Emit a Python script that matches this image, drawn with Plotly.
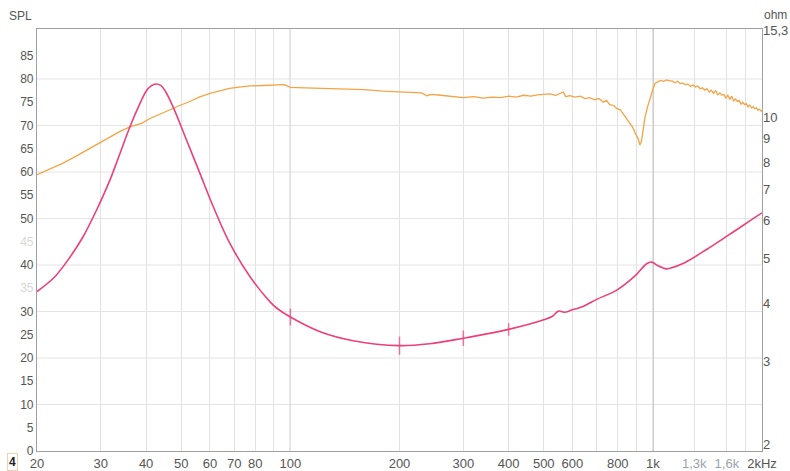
import plotly.graph_objects as go
import math

# ---------------- data ----------------
# SPL (dB) vs frequency (Hz) - orange curve, left axis
SPL_F = [20, 22, 23.6, 25.5, 27.4, 29.5, 31.8, 34, 36.1, 37.7, 39, 41, 43.5, 46.5, 49.5,
         52.6, 56, 60, 64, 68, 73, 77.4, 84, 91.6, 96, 98, 100, 110, 125, 140, 160, 180,
         200, 215, 230, 238, 245, 260, 280, 300, 320, 340, 360, 380, 400, 420, 440, 460,
         480, 500, 520, 540, 552, 566, 575, 590, 610, 630, 650, 670, 690, 710, 730, 745,
         760, 780, 795, 812, 830, 848, 865, 880, 895, 910, 921, 930, 940, 950, 965, 985,
         1000, 1015, 1030, 1050, 1070, 1090, 1110, 1130, 1150, 1170, 1190, 1210, 1230,
         1250, 1270, 1290, 1310, 1330, 1350, 1370, 1390, 1410, 1430, 1450, 1470, 1490,
         1510, 1530, 1550, 1570, 1590, 1610, 1630, 1650, 1670, 1690, 1710, 1730, 1750,
         1770, 1790, 1810, 1830, 1850, 1870, 1890, 1910, 1930, 1950, 1970, 1990, 2000]
SPL_DB = [59.4, 60.8, 61.9, 63.3, 64.7, 66.2, 67.6, 68.8, 69.7, 70.1, 70.5, 71.5, 72.4, 73.3, 74.3,
          75.1, 76.1, 76.9, 77.5, 78.0, 78.3, 78.5, 78.6, 78.7, 78.8, 78.5, 78.2, 78.1, 78.0, 77.8, 77.7, 77.4,
          77.2, 77.1, 77.0, 76.4, 76.7, 76.5, 76.3, 76.0, 76.2, 75.9, 76.1, 76.0, 76.3, 76.1, 76.5, 76.3,
          76.6, 76.7, 76.8, 76.5, 76.9, 77.2, 76.2, 76.4, 76.1, 76.3, 75.8, 76.0, 75.5, 75.8, 75.0, 75.4,
          74.5, 74.3, 73.6, 73.4, 72.4, 71.4, 70.6, 69.6, 68.3, 67.2, 65.8, 66.6, 69.0, 71.6, 73.8, 76.2,
          77.8, 79.1, 79.3, 79.7, 79.5, 79.8, 79.6, 79.6, 79.2, 79.5, 79.0, 79.1, 78.8,
          78.9, 78.4, 78.7, 78.3, 78.5, 77.9, 78.1, 77.6, 77.9, 77.2, 77.6, 76.9, 77.5,
          76.6, 77.0, 76.5, 76.7, 75.9, 76.5, 75.6, 76.3, 75.3, 75.7, 75.2, 75.4, 74.6,
          75.0, 74.5, 74.7, 74.0, 74.4, 73.8, 74.0, 73.6, 73.8, 73.3, 73.5, 73.1, 73.2]

# Impedance (ohm) vs frequency (Hz) - pink curve, right axis
IMP_F = [20, 22.4, 24.7, 26.8, 29.2, 31.8, 33.9, 36.1, 38.5, 40, 41.3, 42.6, 43.9, 45.2, 47.5,
         51.7, 56.3, 61.3, 68.1, 77.4, 87.9, 91.6, 100, 120.8, 149, 200, 242, 300, 400, 500,
         530, 548, 570, 597, 646, 700, 795, 888, 961, 993, 1030, 1090, 1110, 1220, 1410, 1620,
         1960, 2000]
IMP_OHM = [4.24, 4.56, 5.03, 5.55, 6.33, 7.34, 8.37, 9.53, 10.7, 11.35, 11.65, 11.76, 11.68, 11.35,
           10.5, 8.93, 7.58, 6.43, 5.37, 4.56, 4.03, 3.91, 3.74, 3.48, 3.33, 3.25, 3.28, 3.37, 3.52,
           3.69, 3.76, 3.85, 3.83, 3.87, 3.95, 4.08, 4.27, 4.56, 4.86, 4.90, 4.82, 4.74, 4.75, 4.88,
           5.22, 5.60, 6.18, 6.24]

# small measurement ticks on the impedance curve
MARK_F = [100, 200, 300, 400]
MARK_SIZE = [12, 13, 11, 9]

# axis ticks
X_TICKS = [20, 30, 40, 50, 60, 70, 80, 90, 100, 200, 300, 400, 500, 600, 700, 800, 900,
           1000, 1300, 1600, 1800, 2000]
X_LABELS = ['20', '30', '40', '50', '60', '70', '80', '', '100', '200', '300', '400', '500',
            '600', '', '800', '', '1k', "<span style='color:#9aa3ad'>1,3k</span>",
            "<span style='color:#9aa3ad'>1,6k</span>", '', '2kHz']
X_MAJOR = [100, 1000]
SPL_TICKS = [0, 5, 10, 15, 20, 25, 30, 35, 40, 45, 50, 55, 60, 65, 70, 75, 80, 85]
SPL_FAINT = [35, 45]
SPL_GRID = [10, 20, 30, 40, 50, 60, 70, 80]
OHM_TICKS = [2, 3, 4, 5, 6, 7, 8, 9, 10, 15.3]
OHM_LABELS = ['2', '3', '4', '5', '6', '7', '8', '9', '10', '15,3']

# ---------------- figure ----------------
ORANGE = '#f5a345'
PINK = '#ec3f7c'
FONT = 'Liberation Sans, Arial, sans-serif'

fig = go.Figure()
fig.add_trace(go.Scatter(x=SPL_F, y=SPL_DB, mode='lines', yaxis='y',
                         line=dict(color=ORANGE, width=1.3), hoverinfo='skip'))
fig.add_trace(go.Scatter(x=IMP_F, y=IMP_OHM, mode='lines', yaxis='y2',
                         line=dict(color=PINK, width=1.6, shape='spline', smoothing=1.0),
                         hoverinfo='skip'))
imp_lookup = dict(zip(IMP_F, IMP_OHM))
fig.add_trace(go.Scatter(x=MARK_F, y=[imp_lookup[f] for f in MARK_F], mode='markers', yaxis='y2',
                         marker=dict(symbol='line-ns', size=MARK_SIZE,
                                     line=dict(color=PINK, width=1.5)),
                         hoverinfo='skip'))

shapes = []
for v in SPL_GRID:
    shapes.append(dict(type='line', xref='paper', yref='y', x0=0, x1=1, y0=v, y1=v,
                       line=dict(color='#e4e4e4', width=1), layer='below'))
for f in X_MAJOR:
    shapes.append(dict(type='line', xref='x', yref='paper', x0=f, x1=f, y0=0, y1=1,
                       line=dict(color='#9c9c9c', width=1.2), layer='below'))

spl_text = [("<span style='color:#d8d8d8'>%d</span>" % v) if v in SPL_FAINT else str(v)
            for v in SPL_TICKS]

fig.update_layout(
    width=790, height=471,
    margin=dict(l=37, r=28, t=29, b=20, autoexpand=False),
    paper_bgcolor='white', plot_bgcolor='white',
    showlegend=False,
    font=dict(family=FONT, size=12, color='#555'),
    shapes=shapes,
    xaxis=dict(type='log', range=[math.log10(20), math.log10(2000)],
               tickmode='array', tickvals=X_TICKS, ticktext=X_LABELS,
               tickfont=dict(size=13, color='#555'), automargin=False,
               showgrid=True, gridcolor='#e2e2e2', gridwidth=1,
               showline=True, linecolor='#a0a0a0', linewidth=1.2, mirror=True,
               ticks='', zeroline=False, fixedrange=True),
    yaxis=dict(range=[0, 90.75], tickmode='array', tickvals=SPL_TICKS, ticktext=spl_text,
               tickfont=dict(size=12, color='#555'), automargin=False,
               showgrid=False, zeroline=False, ticks='',
               showline=True, linecolor='#a0a0a0', linewidth=1.2, mirror=True),
    yaxis2=dict(type='log', overlaying='y', side='right',
                range=[math.log10(1.936), math.log10(15.41)],
                tickmode='array', tickvals=OHM_TICKS, ticktext=OHM_LABELS,
                tickfont=dict(size=13, color='#555'), automargin=False,
                showgrid=False, zeroline=False, ticks='', showline=False),
    annotations=[
        dict(text='SPL', xref='paper', yref='paper', x=-0.023, y=1.03, showarrow=False,
             font=dict(size=12, color='#555'), xanchor='center', yanchor='middle'),
        dict(text='ohm', xref='paper', yref='paper', x=1.019, y=1.032, showarrow=False,
             font=dict(size=12, color='#555'), xanchor='center', yanchor='middle'),
        dict(text='<b>4</b>', xref='paper', yref='paper', x=-0.034, y=-0.026, showarrow=False,
             font=dict(size=12, color='#222'), xanchor='center', yanchor='middle',
             bordercolor='#f6cfae', borderwidth=1, borderpad=1),
    ],
)

fig.write_html('out.html', config={'displayModeBar': False},
               post_script="document.body.style.margin='0';document.body.style.overflow='hidden';")
